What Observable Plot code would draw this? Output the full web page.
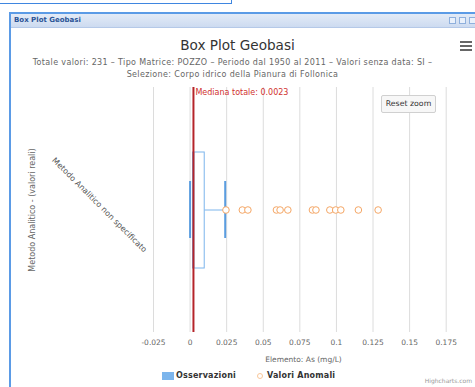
<!DOCTYPE html>
<html><head><meta charset="utf-8">
<script src="https://cdn.jsdelivr.net/npm/d3@7"></script>
<script src="https://cdn.jsdelivr.net/npm/@observablehq/plot@0.6"></script>
<style>
body{margin:0;background:#fff;font-family:"DejaVu Sans",sans-serif;}
#wrap{position:relative;width:475px;height:387px;overflow:hidden;background:#fff;}
#topbox{position:absolute;left:-2px;top:-20px;width:232px;height:22px;border:1px solid #3f86e0;}
#panel{position:absolute;left:9px;top:12px;width:480px;height:400px;border:2px solid #5b9be6;box-sizing:border-box;}
#header{position:absolute;left:11px;top:14px;width:470px;height:13px;background:linear-gradient(#e3ebf7,#cddbf0);border-bottom:1px solid #b5c9e8;}
#header span{position:absolute;left:3px;top:2px;font:bold 7px "DejaVu Sans",sans-serif;color:#2a5396;}
.hicon{position:absolute;top:17px;width:7px;height:7px;border:1px solid #8fb0dd;background:#eaf1fb;box-sizing:border-box;}
#chart{position:absolute;left:0;top:0;}
#title{position:absolute;left:0;width:475px;top:37px;text-align:center;font-size:13.6px;color:#333;line-height:17px;}
#subtitle{position:absolute;left:0;width:465px;top:57px;text-align:center;font-size:8px;letter-spacing:0.35px;color:#666;line-height:11.5px;}
#menu{position:absolute;left:460px;top:41px;width:12px;}
#menu div{height:2px;background:#666;margin-bottom:2px;}
#reset{position:absolute;left:381px;top:95px;width:55px;height:18px;box-sizing:border-box;border:1px solid #d0d0d0;border-radius:2px;background:#f7f7f7;font-size:7.8px;color:#333;text-align:center;line-height:16px;}
#legend{position:absolute;left:0;top:370px;width:475px;height:12px;font-weight:bold;font-size:8px;color:#333;}
#legend .sq{position:absolute;left:162px;top:2px;width:12px;height:8px;background:#7cb5ec;}
#legend .t1{position:absolute;left:176px;top:0;line-height:12px;letter-spacing:0.2px;}
#legend .ci{position:absolute;left:257px;top:3px;width:6px;height:6px;border:1px solid #f9c79a;border-radius:50%;box-sizing:border-box;}
#legend .t2{position:absolute;left:267px;top:0;line-height:12px;letter-spacing:0.2px;}
#credits{position:absolute;right:3px;top:377px;font-size:6px;color:#999;}
</style></head><body>
<div id="wrap">
  <div id="topbox"></div>
  <div id="panel"></div>
  <div id="header"><span>Box Plot Geobasi</span></div>
  <div class="hicon" style="left:449px"></div>
  <div class="hicon" style="left:459px"></div>
  <div class="hicon" style="left:469px"></div>
  <div id="chart"></div>
  <div id="title">Box Plot Geobasi</div>
  <div id="subtitle">Totale valori: 231 – Tipo Matrice: POZZO – Periodo dal 1950 al 2011 – Valori senza data: SI –<br>Selezione: Corpo idrico della Pianura di Follonica</div>
  <div id="menu"><div></div><div></div><div></div></div>
  <div id="reset">Reset zoom</div>
  <div id="legend"><div class="sq"></div><div class="t1">Osservazioni</div><div class="ci"></div><div class="t2">Valori Anomali</div></div>
  <div id="credits">Highcharts.com</div>
</div>
<script>
const categories = ["Metodo Analitico non specificato"];
const boxLow = [0];
const boxQ1 = [0.002];
const boxMedian = [0.0023];
const boxQ3 = [0.0100];
const boxHigh = [0.024];
const outliers = [0.0245, 0.0357, 0.0395, 0.0590, 0.0615, 0.0668, 0.0836, 0.0860, 0.0955, 0.0995, 0.1030, 0.1150, 0.1285];
const medianTotal = 0.0023;
const xTicks = [-0.025, 0, 0.025, 0.05, 0.075, 0.1, 0.125, 0.15, 0.175];
const xLabel = "Elemento: As (mg/L)";
const yLabel = "Metodo Analitico - (valori reali)";

const rows = categories.map((c, i) => ({cat: c, low: boxLow[i], q1: boxQ1[i], median: boxMedian[i], q3: boxQ3[i], high: boxHigh[i]}));
const outRows = outliers.map(v => ({cat: categories[0], v}));
const fmt = d => (+d.toFixed(3)).toString();
const blue = "#7cb5ec";

const chart = Plot.plot({
  width: 475,
  height: 387,
  marginTop: 87,
  marginBottom: 55,
  marginLeft: 153,
  marginRight: 22,
  style: {background: "transparent", fontFamily: "DejaVu Sans, sans-serif", fontSize: "7.5px", color: "#666"},
  x: {domain: [-0.025, 0.18]},
  y: {domain: categories, padding: 0},
  marks: [
    Plot.gridX(xTicks, {stroke: "#dcdcdc", strokeOpacity: 1}),
    Plot.axisX(xTicks, {tickSize: 0, tickPadding: 7, tickFormat: fmt, fill: "#666", label: xLabel, labelAnchor: "center", labelOffset: 29, labelArrow: "none"}),
    Plot.axisY({tickSize: 0, tickPadding: 8, tickRotate: 45, textAnchor: "end", dy: 41, fill: "#555", label: null, fontSize: 8}),
    Plot.axisY({tickSize: 0, tickFormat: () => "", label: yLabel, labelAnchor: "center", labelOffset: 124, fill: "#666", fontSize: 8}),
    Plot.ruleY(rows, {y: "cat", x1: "q3", x2: "high", stroke: blue, strokeWidth: 1}),
    Plot.barX(rows, {y: "cat", x1: "q1", x2: "q3", fill: "white", stroke: blue, strokeWidth: 1, insetTop: 65, insetBottom: 64}),
    Plot.tickX(rows, {x: "median", y: "cat", stroke: blue, strokeWidth: 2, insetTop: 65, insetBottom: 64}),
    Plot.tickX(rows, {x: "low", y: "cat", stroke: "#5a9de0", strokeWidth: 2, insetTop: 94, insetBottom: 94}),
    Plot.tickX(rows, {x: "high", y: "cat", stroke: "#5a9de0", strokeWidth: 2, insetTop: 94, insetBottom: 94}),
    Plot.dot(outRows, {x: "v", y: "cat", r: 3.3, stroke: "#f5a766", fill: "white", strokeWidth: 1}),
    Plot.ruleX([medianTotal], {stroke: "#b5242a", strokeWidth: 2}),
    Plot.text([medianTotal], {x: d => d, frameAnchor: "top", textAnchor: "start", lineAnchor: "top", dx: 2, dy: 2, text: d => "Mediana totale: " + d, fill: "#d0312d", fontSize: 8})
  ]
});
document.getElementById("chart").appendChild(chart);
</script>
</body></html>
